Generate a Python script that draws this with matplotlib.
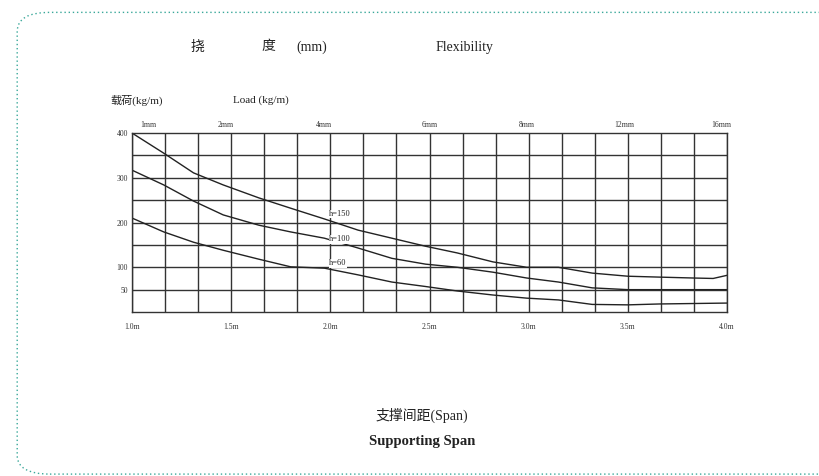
import numpy as np
import matplotlib.pyplot as plt
from matplotlib.patches import FancyBboxPatch

# span (m) vs load (kg/m)
span_150 = [1.0, 1.16, 1.31, 1.46, 1.64, 1.80, 1.97, 2.14, 2.31, 2.48, 2.64, 2.82, 2.99, 3.15, 3.32, 3.50, 3.66, 3.83, 3.93, 4.0]
load_150 = [400, 355, 311, 284, 255, 232, 208, 183, 165, 147, 132, 112, 100, 100, 87, 80, 78, 76, 75, 82]

span_100 = [1.0, 1.16, 1.31, 1.46, 1.64, 1.80, 1.97, 2.14, 2.31, 2.48, 2.64, 2.82, 2.99, 3.15, 3.32, 3.50, 3.66, 3.83, 4.0]
load_100 = [317, 284, 248, 217, 194, 179, 165, 143, 120, 107, 100, 89, 76, 67, 54, 50, 50, 50, 50]

span_60 = [1.0, 1.16, 1.31, 1.46, 1.64, 1.80, 1.97, 2.14, 2.31, 2.48, 2.64, 2.82, 2.99, 3.15, 3.32, 3.50, 3.66, 3.83, 4.0]
load_60 = [210, 179, 156, 138, 118, 101, 98, 83, 67, 57, 47, 38, 31, 27, 17, 16, 18, 19, 20]

curve_labels = ['h=150', 'h=100', 'h=60']
curve_label_y = [219, 163, 109]

span_ticks = [1.0, 1.5, 2.0, 2.5, 3.0, 3.5, 4.0]
span_labels = ['1.0m', '1.5m', '2.0m', '2.5m', '3.0m', '3.5m', '4.0m']
defl_pos = [1.08, 1.47, 1.97, 2.50, 2.99, 3.48, 3.97]
defl_labels = ['1mm', '2mm', '4mm', '6mm', '8mm', '12mm', '16mm']
load_ticks = [50, 100, 200, 300, 400]

fam = ['Liberation Serif', 'Noto Sans CJK SC']
plt.rcParams['font.family'] = fam

fig = plt.figure(figsize=(8.19, 4.76), dpi=100)
fig.patch.set_facecolor('white')

# dotted rounded frame
frame = FancyBboxPatch((0.021, 0.004), 1.2, 0.97, boxstyle='round,pad=0,rounding_size=0.04',
                       transform=fig.transFigure, fill=False, edgecolor='#3aa89a',
                       linestyle=(0, (1, 2)), linewidth=1.0)
fig.patches.append(frame)

ax = fig.add_axes([0.1612, 0.3445, 0.7265, 0.376])
ax.set_xlim(1.0, 4.0)
ax.set_ylim(0, 400)

for xv in np.linspace(1.0, 4.0, 19):
    ax.axvline(xv, color='#333333', lw=1.0, zorder=1)
for yv in range(50, 400, 50):
    ax.axhline(yv, color='#333333', lw=1.0, zorder=1)
for s in ax.spines.values():
    s.set_color('#333333')
    s.set_linewidth(1.0)

ax.plot(span_150, load_150, color='#222222', lw=1.0, zorder=2)
ax.plot(span_100, load_100, color='#222222', lw=1.0, zorder=2)
ax.plot(span_60, load_60, color='#222222', lw=1.0, zorder=2)

for lab, yv in zip(curve_labels, curve_label_y):
    ax.text(1.995, yv, lab, fontsize=6, ha='left', va='center', color='#222222',
            bbox=dict(facecolor='white', edgecolor='none', pad=0.3), zorder=3)

ax.set_xticks(span_ticks)
ax.set_xticklabels(span_labels, fontsize=5.5, color='#333333')
ax.set_yticks(load_ticks)
ax.set_yticklabels([str(v) for v in load_ticks], fontsize=5.5, color='#333333')
ax.tick_params(length=0, pad=3)
ax.tick_params(axis='x', pad=8)

top = ax.twiny()
top.set_xlim(1.0, 4.0)
top.set_xticks(defl_pos)
top.set_xticklabels(defl_labels, fontsize=5.5, color='#333333')
top.tick_params(length=0, pad=3)
for s in top.spines.values():
    s.set_visible(False)

fig.text(197 / 819, 1 - 47 / 476, '挠', fontsize=10, ha='center', va='center', color='#222222')
fig.text(268 / 819, 1 - 47 / 476, '度', fontsize=10, ha='center', va='center', color='#222222')
fig.text(312 / 819, 1 - 47 / 476, '(mm)', fontsize=10, ha='center', va='center', color='#222222')
fig.text(465 / 819, 1 - 47 / 476, 'Flexibility', fontsize=10, ha='center', va='center', color='#222222')
fig.text(110 / 819, 1 - 100 / 476, '载荷(kg/m)', fontsize=8, ha='left', va='center', color='#222222')
fig.text(233 / 819, 1 - 100 / 476, 'Load (kg/m)', fontsize=8, ha='left', va='center', color='#222222')
fig.text(422 / 819, 1 - 415 / 476, '支撑间距(Span)', fontsize=10, ha='center', va='center', color='#222222')
fig.text(422 / 819, 1 - 442 / 476, 'Supporting Span', fontsize=10.5, fontweight='bold',
         ha='center', va='center', color='#222222')

fig.savefig('out.png', dpi=100)
